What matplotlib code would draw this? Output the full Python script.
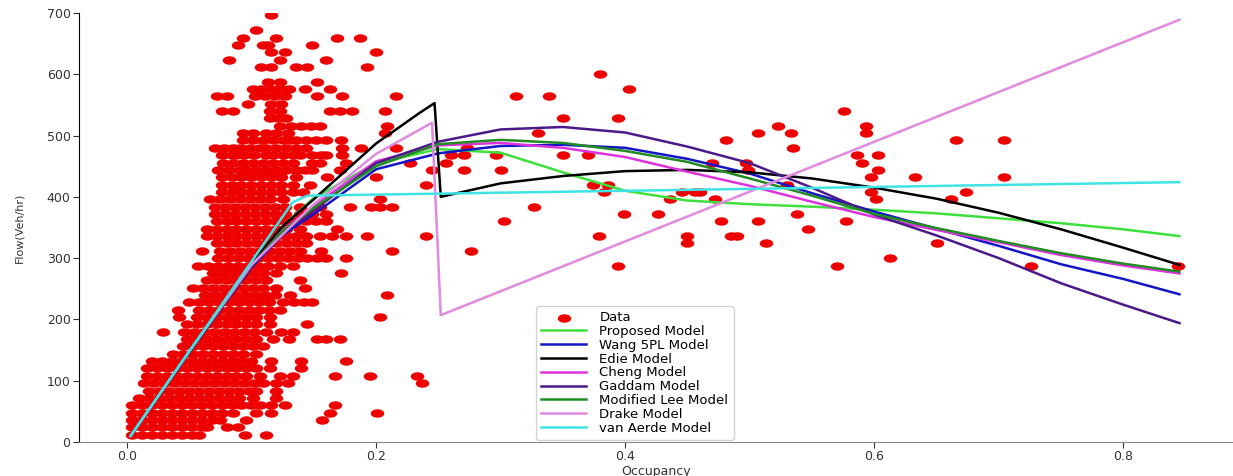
import numpy as np
import matplotlib
matplotlib.use("Agg")
import matplotlib.pyplot as plt
from matplotlib.path import Path
from matplotlib.transforms import Affine2D

# ---- observed data: flow levels (veh/hr) and the occupancies seen on each level ----
data_levels = [12, 24, 36, 48, 60, 72, 84, 96, 108, 120, 132, 144, 156, 168, 180, 192,
               204, 216, 228, 240, 252, 264, 276, 288, 300, 312, 324, 336, 348, 360, 372,
               384, 396, 408, 420, 432, 444, 456, 468, 480, 492, 504, 516, 528, 540, 552,
               564, 576, 588, 600, 612, 624, 636, 648, 660, 672, 696]
data_rows = [
    [0.004, 0.012, 0.020, 0.028, 0.036, 0.044, 0.052, 0.058, 0.095, 0.112],
    [0.004, 0.012, 0.020, 0.028, 0.036, 0.044, 0.052, 0.060, 0.064, 0.080, 0.089],
    [0.004, 0.012, 0.020, 0.028, 0.036, 0.044, 0.052, 0.060, 0.068, 0.075, 0.096, 0.157],
    [0.004, 0.012, 0.020, 0.028, 0.036, 0.044, 0.052, 0.060, 0.068, 0.076, 0.085, 0.104,
     0.116, 0.163, 0.201],
    [0.004, 0.012, 0.020, 0.028, 0.036, 0.044, 0.052, 0.060, 0.068, 0.076, 0.084, 0.092,
     0.100, 0.107, 0.116, 0.127, 0.167],
    [0.010, 0.018, 0.026, 0.034, 0.042, 0.050, 0.058, 0.066, 0.074, 0.082, 0.090, 0.101, 0.120],
    [0.018, 0.026, 0.034, 0.042, 0.050, 0.058, 0.066, 0.074, 0.082, 0.090, 0.098, 0.104, 0.120],
    [0.014, 0.022, 0.030, 0.038, 0.046, 0.054, 0.062, 0.070, 0.078, 0.086, 0.094, 0.102,
     0.109, 0.120, 0.129],
    [0.016, 0.024, 0.032, 0.040, 0.048, 0.056, 0.064, 0.072, 0.080, 0.088, 0.096, 0.107,
     0.123, 0.133, 0.167, 0.195, 0.233],
    [0.016, 0.024, 0.032, 0.040, 0.048, 0.056, 0.064, 0.072, 0.080, 0.088, 0.096, 0.104,
     0.115, 0.140],
    [0.020, 0.028, 0.036, 0.044, 0.052, 0.060, 0.068, 0.076, 0.084, 0.092, 0.100, 0.116,
     0.140, 0.176],
    [0.037, 0.045, 0.053, 0.061, 0.069, 0.077, 0.085, 0.093, 0.104],
    [0.045, 0.053, 0.061, 0.069, 0.077, 0.085, 0.093, 0.101, 0.109],
    [0.048, 0.056, 0.064, 0.072, 0.080, 0.088, 0.096, 0.104, 0.117, 0.130, 0.153, 0.160, 0.171],
    [0.029, 0.046, 0.054, 0.062, 0.070, 0.078, 0.086, 0.094, 0.102, 0.112, 0.124, 0.133],
    [0.048, 0.056, 0.064, 0.072, 0.080, 0.088, 0.096, 0.104, 0.115, 0.145],
    [0.042, 0.056, 0.064, 0.072, 0.080, 0.088, 0.096, 0.104, 0.115, 0.203],
    [0.041, 0.058, 0.066, 0.074, 0.082, 0.090, 0.098, 0.106, 0.114, 0.123],
    [0.050, 0.058, 0.066, 0.074, 0.082, 0.090, 0.098, 0.106, 0.114, 0.125, 0.134, 0.142, 0.149],
    [0.063, 0.071, 0.079, 0.087, 0.095, 0.103, 0.111, 0.119, 0.131, 0.209],
    [0.053, 0.061, 0.069, 0.077, 0.085, 0.093, 0.101, 0.109, 0.120, 0.143],
    [0.064, 0.072, 0.080, 0.088, 0.096, 0.104, 0.112, 0.139],
    [0.069, 0.077, 0.085, 0.093, 0.101, 0.109, 0.120, 0.172],
    [0.057, 0.065, 0.073, 0.081, 0.089, 0.097, 0.105, 0.113, 0.123, 0.133, 0.394, 0.570,
     0.726, 0.844],
    [0.073, 0.081, 0.089, 0.097, 0.105, 0.113, 0.121, 0.129, 0.137, 0.145, 0.153, 0.160,
     0.176, 0.613],
    [0.060, 0.075, 0.083, 0.091, 0.099, 0.107, 0.115, 0.123, 0.131, 0.139, 0.156, 0.213, 0.276],
    [0.072, 0.080, 0.088, 0.096, 0.104, 0.112, 0.120, 0.128, 0.136, 0.144, 0.450, 0.513, 0.650],
    [0.064, 0.072, 0.080, 0.088, 0.096, 0.104, 0.112, 0.120, 0.128, 0.136, 0.144, 0.155,
     0.165, 0.176, 0.193, 0.240, 0.379, 0.450, 0.485, 0.490],
    [0.064, 0.072, 0.080, 0.088, 0.096, 0.104, 0.112, 0.120, 0.128, 0.139, 0.169, 0.547],
    [0.072, 0.080, 0.088, 0.096, 0.104, 0.112, 0.120, 0.128, 0.136, 0.144, 0.152, 0.160,
     0.303, 0.477, 0.507, 0.577],
    [0.071, 0.079, 0.087, 0.095, 0.103, 0.111, 0.119, 0.127, 0.139, 0.149, 0.160,
     0.399, 0.426, 0.538],
    [0.071, 0.079, 0.087, 0.095, 0.103, 0.111, 0.119, 0.127, 0.139, 0.155, 0.179, 0.196,
     0.203, 0.213, 0.327],
    [0.067, 0.075, 0.083, 0.091, 0.099, 0.107, 0.115, 0.125, 0.203, 0.436, 0.472, 0.601, 0.662],
    [0.076, 0.084, 0.092, 0.100, 0.108, 0.116, 0.124, 0.133, 0.141, 0.383, 0.446, 0.456,
     0.460, 0.597, 0.674],
    [0.076, 0.084, 0.092, 0.100, 0.108, 0.116, 0.124, 0.133, 0.147, 0.240, 0.374, 0.386, 0.530],
    [0.076, 0.084, 0.092, 0.100, 0.108, 0.116, 0.124, 0.136, 0.161, 0.200, 0.597, 0.633, 0.704],
    [0.073, 0.082, 0.091, 0.096, 0.104, 0.112, 0.120, 0.128, 0.136, 0.143, 0.149, 0.171,
     0.245, 0.271, 0.300, 0.499, 0.603],
    [0.077, 0.085, 0.093, 0.101, 0.109, 0.117, 0.125, 0.133, 0.149, 0.155, 0.176, 0.227,
     0.256, 0.470, 0.497, 0.590],
    [0.076, 0.084, 0.088, 0.094, 0.102, 0.112, 0.117, 0.125, 0.133, 0.139, 0.149, 0.156,
     0.160, 0.173, 0.260, 0.271, 0.296, 0.350, 0.370, 0.586, 0.603],
    [0.071, 0.078, 0.085, 0.091, 0.099, 0.107, 0.112, 0.120, 0.128, 0.136, 0.144, 0.173,
     0.188, 0.216, 0.273, 0.535],
    [0.093, 0.101, 0.109, 0.117, 0.125, 0.131, 0.136, 0.144, 0.152, 0.160, 0.172, 0.481,
     0.666, 0.704],
    [0.093, 0.101, 0.112, 0.120, 0.129, 0.207, 0.330, 0.507, 0.533, 0.593],
    [0.123, 0.132, 0.140, 0.148, 0.155, 0.209, 0.523, 0.593],
    [0.115, 0.121, 0.128, 0.350, 0.394],
    [0.076, 0.085, 0.115, 0.123, 0.163, 0.171, 0.181, 0.207, 0.576],
    [0.097, 0.116, 0.124],
    [0.072, 0.080, 0.103, 0.111, 0.119, 0.127, 0.153, 0.173, 0.216, 0.312, 0.339],
    [0.101, 0.108, 0.116, 0.123, 0.130, 0.143, 0.163, 0.403],
    [0.113, 0.123, 0.153],
    [0.380],
    [0.108, 0.116, 0.136, 0.145, 0.193],
    [0.082, 0.123, 0.160],
    [0.116, 0.127, 0.200],
    [0.089, 0.109, 0.113, 0.149],
    [0.093, 0.120, 0.169, 0.187],
    [0.104],
    [0.116],
]
extra_occ = [0.237]
extra_flow = [96]

# ---- fitted model curves ----
occ_grid = [0.003, 0.05, 0.1, 0.125, 0.15, 0.2, 0.25, 0.3, 0.35, 0.4, 0.45, 0.5,
            0.55, 0.6, 0.65, 0.7, 0.75, 0.8, 0.845]
proposed = [10, 148, 290, 352, 398, 455, 478, 472, 440, 410, 394, 388, 384, 379, 373,
            365, 357, 347, 336]
wang5pl = [10, 146, 285, 338, 372, 445, 471, 483, 485, 480, 462, 438, 406, 376, 348,
           320, 290, 266, 241]
cheng = [10, 147, 288, 345, 385, 458, 484, 488, 480, 465, 441, 418, 392, 367, 346,
         326, 305, 288, 275]
gaddam = [10, 146, 287, 342, 378, 455, 490, 510, 514, 505, 482, 455, 415, 371, 337,
          300, 259, 224, 194]
mod_lee = [10, 147, 288, 344, 382, 450, 486, 493, 488, 475, 457, 430, 402, 372, 349,
           328, 308, 291, 278]

edie_occ = [0.003, 0.05, 0.1, 0.125, 0.15, 0.2, 0.235, 0.247, 0.252, 0.3, 0.35, 0.4,
            0.45, 0.5, 0.55, 0.6, 0.65, 0.7, 0.75, 0.8, 0.845]
edie = [10, 148, 291, 352, 396, 487, 537, 553, 400, 422, 434, 442, 444, 440, 430, 415,
        397, 374, 347, 317, 289]

drake_occ = [0.003, 0.05, 0.1, 0.15, 0.2, 0.245, 0.252, 0.845]
drake = [10, 148, 289, 388, 470, 521, 207, 689]

vanaerde_occ = [0.003, 0.133, 0.145, 0.5, 0.845]
vanaerde = [10, 391, 402, 413, 424]

# ---- plotting ----
fig = plt.figure(figsize=(12.33, 4.76), dpi=100)
ax = fig.add_axes([0.064, 0.0714, 0.936, 0.9013])

# the source picture is stretched sideways, so the dots are ellipses
ellipse = Path.unit_circle().transformed(Affine2D().scale(1.6, 1.0))

pts_x = [x for row in data_rows for x in row] + extra_occ
pts_y = [lvl for lvl, row in zip(data_levels, data_rows) for _ in row] + extra_flow
ax.scatter(pts_x, pts_y, s=95, marker=ellipse, color='#ee0000', linewidths=0,
           label='Data', zorder=1)

lw = 1.8
ax.plot(occ_grid, proposed, color='#3de03d', lw=lw, label='Proposed Model')
ax.plot(occ_grid, wang5pl, color='#1414c8', lw=lw, label='Wang 5PL Model')
ax.plot(edie_occ, edie, color='black', lw=lw, label='Edie Model')
ax.plot(occ_grid, cheng, color='#dd33dd', lw=lw, label='Cheng Model')
ax.plot(occ_grid, gaddam, color='#4b1a88', lw=lw, label='Gaddam Model')
ax.plot(occ_grid, mod_lee, color='#238b23', lw=lw, label='Modified Lee Model')
ax.plot(drake_occ, drake, color='#e08ae0', lw=lw, label='Drake Model')
ax.plot(vanaerde_occ, vanaerde, color='#3fe3e3', lw=lw, label='van Aerde Model')

ax.set_xlim(-0.0385, 0.888)
ax.set_ylim(0, 700)
ax.set_xticks([0.0, 0.2, 0.4, 0.6, 0.8])
ax.set_yticks(range(0, 701, 100))
ax.tick_params(labelsize=9, colors='#333333', length=4, pad=2)
ax.spines['top'].set_visible(False)
ax.spines['right'].set_visible(False)
ax.spines['bottom'].set_color('#888888')
ax.spines['left'].set_color('black')
ax.set_xlabel('Occupancy', fontsize=9, color='#333333', labelpad=1)
ax.set_ylabel('Flow(Veh/hr)', fontsize=8, color='#333333', labelpad=16)

ax.legend(loc='lower left', bbox_to_anchor=(0.396, 0.005), fontsize=9.5,
          labelspacing=0.06, handlelength=3.4, handletextpad=1.0,
          borderaxespad=0.0, framealpha=0.85)

fig.savefig('out.png', dpi=100)
